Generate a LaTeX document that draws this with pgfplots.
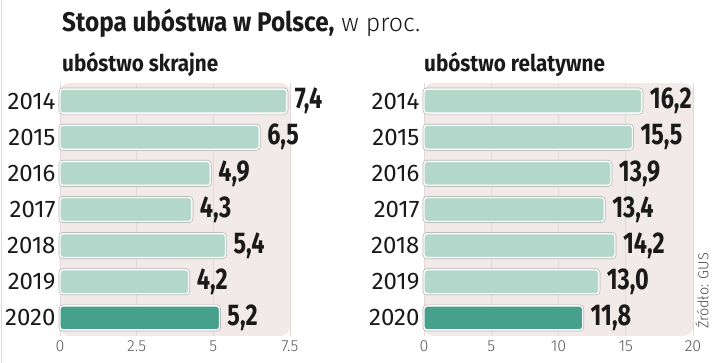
\documentclass[border=0pt]{standalone}
\usepackage{pgfplots}
\pgfplotsset{compat=1.18}
\usepackage{fontspec}
\setmainfont{Fira Sans}
\newfontfamily\condbold[FakeStretch=0.9]{Fira Sans Bold}
\newfontfamily\valbold[FakeStretch=0.78]{Fira Sans Bold}
\newfontfamily\lightf{Fira Sans Light}
\definecolor{barlight}{HTML}{B3D7CA}
\definecolor{bardark}{HTML}{46A08B}
\definecolor{bgpink}{HTML}{F2E9E9}
\definecolor{gridc}{HTML}{E3D8D8}
\definecolor{txt}{HTML}{1A1A1A}
\begin{document}
\begin{tikzpicture}
\useasboundingbox (0pt,0pt) rectangle (720pt,363pt);
\fill[white] (0pt,0pt) rectangle (720pt,363pt);
\draw[black!15, line width=1pt] (1pt,0pt) -- (1pt,363pt);
\node[anchor=base west, inner sep=0pt, text=txt] at (62pt,331pt)
  {{\condbold\fontsize{27}{27}\selectfont Stopa ubóstwa w Polsce,}\hspace{7pt}{\lightf\fontsize{25}{25}\selectfont w proc.}};
\node[anchor=base west, inner sep=0pt, text=txt] at (62pt,291pt)
  {\condbold\fontsize{23}{23}\selectfont ubóstwo skrajne};
\node[anchor=base west, inner sep=0pt, text=txt] at (424pt,291pt)
  {\condbold\fontsize{23}{23}\selectfont ubóstwo relatywne};
\node[rotate=90, anchor=center, inner sep=0pt, text=black!70] at (702pt,72pt)
  {\lightf\fontsize{14.5}{14.5}\selectfont Źródło: GUS};
\pgfplotsset{
  panel/.style={
    anchor=south west, scale only axis, height=253pt,
    xbar, bar width=24pt, bar shift=0pt,
    y dir=reverse, ymin=-0.5, ymax=6.5,
    ytick={0,...,6}, yticklabels={2014,2015,2016,2017,2018,2019,2020},
    axis line style={draw=none}, major tick length=0pt,
    xmajorgrids, grid style={draw=gridc, line width=0.8pt},
    axis background/.style={fill=bgpink, rounded corners=9pt},
    yticklabel style={font=\fontsize{24}{24}\selectfont, text=txt, xshift=-1pt},
    xticklabel style={font=\lightf\fontsize{16}{16}\selectfont, text=black!65, yshift=-1pt},
    /pgf/number format/assume math mode=true,
    nodes near coords,
    point meta=x,
    every node near coord/.append style={font=\valbold\fontsize{30}{30}\selectfont, text=txt, anchor=west, xshift=4pt,
      /pgf/number format/.cd, fixed, fixed zerofill, precision=1, use comma, assume math mode=true},
    clip=false,
  },
  barsty/.style={fill=#1, draw=white, line width=1.4pt, rounded corners=3pt,
    preaction={draw=black!30, line width=2.8pt, rounded corners=3pt}},
}
\begin{axis}[panel, at={(60pt,27pt)}, width=230pt, xmin=0, xmax=7.5,
  xtick={0,2.5,5,7.5}, xticklabels={0,2.5,5,7.5}]
\addplot[barsty=barlight] coordinates {(7.4,0) (6.5,1) (4.9,2) (4.3,3) (5.4,4) (4.2,5)};
\addplot[barsty=bardark] coordinates {(5.2,6)};
\end{axis}
\begin{axis}[panel, at={(424pt,27pt)}, width=269pt, xmin=0, xmax=20,
  xtick={0,5,10,15,20}, xticklabels={0,5,10,15,20}]
\addplot[barsty=barlight] coordinates {(16.2,0) (15.5,1) (13.9,2) (13.4,3) (14.2,4) (13.0,5)};
\addplot[barsty=bardark] coordinates {(11.8,6)};
\end{axis}
\end{tikzpicture}
\end{document}
